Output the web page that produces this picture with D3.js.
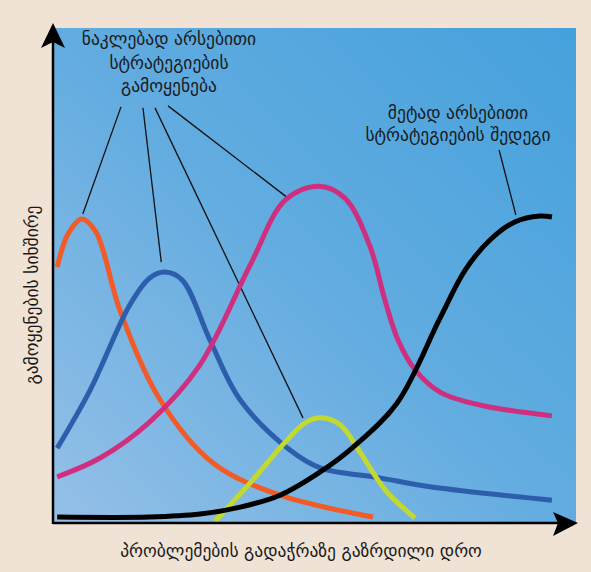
<!DOCTYPE html>
<html>
<head>
<meta charset="utf-8">
<script src="https://cdn.jsdelivr.net/npm/d3@7"></script>
<style>
  html, body { margin: 0; padding: 0; background: #f0e3d6; }
  svg { display: block; }
  .lbl { font-family: "DejaVu Sans", sans-serif; fill: #1a1a1a; }
</style>
</head>
<body>
<div id="chart"></div>
<script>
// curves: [x, y] in 0..100 units of the plot
var lessUseOrange = [[0.8,51.8],[2.9,58.5],[5.5,61.5],[8.2,58.9],[12.8,43.1],[20.5,25.0],[30.6,12.3],[43.4,5.8],[61.2,1.4]]
var lessUseBlue = [[0.8,15.3],[7.1,27.0],[14.7,44.2],[18.5,49.6],[21.4,50.8],[24.7,49.2],[30.0,37.1],[35.8,25.0],[45.3,14.9],[51.1,11.3],[62.5,9.3],[72.1,7.5],[95.4,4.8]]
var lessUseMagenta = [[0.8,9.5],[9.0,13.3],[18.5,20.6],[28.1,32.1],[37.7,52.2],[44.4,65.3],[50.7,68.1],[55.8,65.7],[60.6,56.0],[63.5,45.0],[66.0,37.0],[69.3,31.0],[74.0,26.6],[81.6,24.0],[95.4,21.8]]
var lessUseGreen = [[31.0,0.6],[37.7,8.3],[44.4,16.5],[48.2,20.4],[51.2,21.4],[54.9,20.0],[58.7,14.5],[63.5,6.9],[69.2,1.2]]
var moreUseBlack = [[0.8,1.4],[18.5,1.4],[28.1,2.0],[35.8,3.4],[43.4,5.8],[51.1,10.5],[57.4,15.5],[65.8,24.4],[74.0,41.5],[78.8,51.2],[83.6,57.3],[88.3,60.9],[93.1,62.1],[95.4,61.9]]

// leader lines [from, to]
var leaders = [
  [[13.0,84.1],[5.7,62.5]],
  [[17.2,83.9],[20.7,52.8]],
  [[19.5,83.9],[47.8,21.4]],
  [[22.0,84.3],[44.7,65.9]],
  [[85.3,75.4],[88.5,62.3]]
]

var lessLabel = ['ნაკლებად არსებითი', 'სტრატეგიების', 'გამოყენება']
var moreLabel = ['მეტად არსებითი', 'სტრატეგიების შედეგი']
var xTitle = 'პრობლემების გადაჭრაზე გაზრდილი დრო'
var yTitle = 'გამოყენების სიხშირე'

var W = 591, H = 572
var margin = {left: 53, right: 576, top: 28, bottom: 524}

var svg = d3.select('#chart').append('svg')
  .attr('width', W)
  .attr('height', H)

svg.append('rect').attr('width', W).attr('height', H).attr('fill', '#f0e3d6')

var defs = svg.append('defs')
var grad = defs.append('linearGradient')
  .attr('id', 'bg')
  .attr('x1', '0').attr('y1', '1')
  .attr('x2', '1').attr('y2', '0')
grad.append('stop').attr('offset', '0').attr('stop-color', '#95c0e7')
grad.append('stop').attr('offset', '0.5').attr('stop-color', '#62ace0')
grad.append('stop').attr('offset', '1').attr('stop-color', '#45a1dc')

var x = d3.scaleLinear().domain([0, 100]).range([margin.left, margin.right])
var y = d3.scaleLinear().domain([0, 100]).range([margin.bottom, margin.top])

svg.append('rect')
  .attr('x', margin.left).attr('y', margin.top)
  .attr('width', margin.right - margin.left).attr('height', margin.bottom - margin.top)
  .attr('fill', 'url(#bg)')

var line = d3.line()
  .x(function(d){ return x(d[0]) })
  .y(function(d){ return y(d[1]) })
  .curve(d3.curveCatmullRom.alpha(0.5))

//leader lines
svg.selectAll('.leader')
  .data(leaders)
  .enter()
  .append('line')
  .attr('class', 'leader')
  .attr('x1', function(d){ return x(d[0][0]) })
  .attr('y1', function(d){ return y(d[0][1]) })
  .attr('x2', function(d){ return x(d[1][0]) })
  .attr('y2', function(d){ return y(d[1][1]) })
  .attr('stroke', '#111')
  .attr('stroke-width', 1.3)

var series = [
  {data: lessUseOrange, color: '#f25b27'},
  {data: lessUseBlue, color: '#2c5eab'},
  {data: lessUseMagenta, color: '#cf2f7f'},
  {data: lessUseGreen, color: '#c3d92f'},
  {data: moreUseBlack, color: '#000000'}
]

svg.selectAll('.curve')
  .data(series)
  .enter()
  .append('path')
  .attr('class', 'curve')
  .attr('d', function(d){ return line(d.data) })
  .attr('fill', 'none')
  .attr('stroke', function(d){ return d.color })
  .attr('stroke-width', 5)
  .attr('stroke-linecap', 'butt')

//axes
svg.append('line')
  .attr('x1', margin.left).attr('y1', margin.bottom).attr('x2', margin.left).attr('y2', 40)
  .attr('stroke', '#000').attr('stroke-width', 2.5)
svg.append('line')
  .attr('x1', margin.left).attr('y1', margin.bottom - 1).attr('x2', 565).attr('y2', margin.bottom - 1)
  .attr('stroke', '#000').attr('stroke-width', 2.5)

svg.append('path')
  .attr('d', 'M53,23 L65,48 L53,42 L41,48 Z')
  .attr('fill', '#000')
svg.append('path')
  .attr('d', 'M578,523 L553,512 L558,523 L553,536 Z')
  .attr('fill', '#000')

//labels
var fs = 17.5
svg.append('text')
  .attr('class', 'lbl')
  .attr('text-anchor', 'middle')
  .attr('font-size', fs)
  .selectAll('tspan')
  .data(lessLabel)
  .enter()
  .append('tspan')
  .attr('x', 169)
  .attr('y', function(d, i){ return 45 + i * 23.5 })
  .text(function(d){ return d })

svg.append('text')
  .attr('class', 'lbl')
  .attr('text-anchor', 'middle')
  .attr('font-size', fs)
  .selectAll('tspan')
  .data(moreLabel)
  .enter()
  .append('tspan')
  .attr('x', 458)
  .attr('y', function(d, i){ return 119 + i * 22 })
  .text(function(d){ return d })

svg.append('text')
  .attr('class', 'lbl')
  .attr('text-anchor', 'middle')
  .attr('font-size', fs)
  .attr('x', 301)
  .attr('y', 557)
  .text(xTitle)

svg.append('text')
  .attr('class', 'lbl')
  .attr('text-anchor', 'middle')
  .attr('font-size', fs)
  .attr('transform', 'translate(38,295) rotate(-90)')
  .text(yTitle)
</script>
</body>
</html>
